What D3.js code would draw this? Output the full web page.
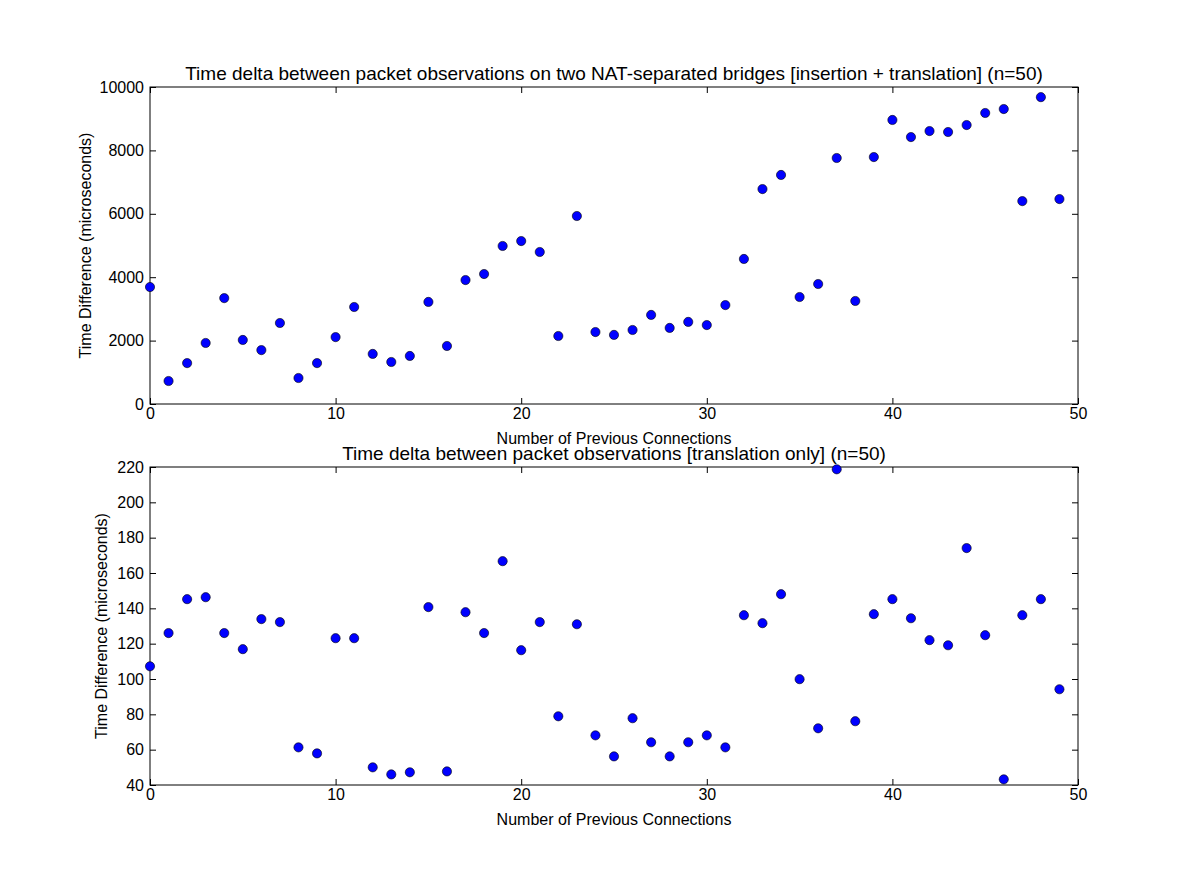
<!DOCTYPE html>
<html><head><meta charset="utf-8">
<script src="https://cdn.jsdelivr.net/npm/d3@7"></script>
<style>body{margin:0;background:#fff}text{font-family:"Liberation Sans",Arial,sans-serif}</style>
</head><body><div id="chart"></div>
<script>
const connections = d3.range(50);
const topValues = [3690,725,1290,1925,3340,2020,1700,2555,820,1290,2110,3060,1580,1325,1515,3220,1830,3910,4100,4985,
  5140,4795,2145,5930,2270,2180,2335,2810,2400,2590,2490,3120,4575,6780,7225,3375,3785,7760,3250,7790,
  8960,8420,8610,8580,8800,9180,9305,6400,9680,6465];
const bottomValues = [107.2,126,145.2,146.3,126,116.9,133.9,132.2,61.3,57.9,123.1,123.1,50,46,47.2,140.7,47.7,137.8,126,166.7,
  116.3,132.2,78.9,131,68.1,56.2,77.8,64.2,56.2,64.2,68.1,61.3,136.1,131.6,148,99.9,72.1,218.7,76.1,136.7,
  145.2,134.4,122,119.1,174.1,124.8,43.2,136.1,145.2,94.2];
const xTicks = [0,10,20,30,40,50];
const topYTicks = [0,2000,4000,6000,8000,10000];
const bottomYTicks = [40,60,80,100,120,140,160,180,200,220];

const svg = d3.select('#chart').append('svg').attr('width',1197).attr('height',873);

function panel(top, bottom, values, yDomain, yTicks, title, yLabelX) {
  const left = 150, right = 1078;
  const x = d3.scaleLinear().domain([0,50]).range([left,right]);
  const y = d3.scaleLinear().domain(yDomain).range([bottom,top]);
  const g = svg.append('g');
  const axes = [
    [d3.axisBottom(x).tickValues(xTicks), `translate(0,${bottom})`, true, 4],
    [d3.axisTop(x).tickValues(xTicks), `translate(0,${top})`, false, 0],
    [d3.axisLeft(y).tickValues(yTicks), `translate(${left},0)`, true, 6],
    [d3.axisRight(y).tickValues(yTicks), `translate(${right},0)`, false, 0]
  ];
  axes.forEach(([ax, tr, labels, pad]) => {
    ax.tickSizeInner(-6).tickSizeOuter(0).tickPadding(pad).tickFormat(d3.format('d'));
    const a = g.append('g').attr('transform', tr).call(ax);
    a.select('.domain').remove();
    a.selectAll('line').attr('stroke','#000');
    a.selectAll('text').attr('fill','#000').style('font-size','16px');
    if (!labels) a.selectAll('text').remove();
  });
  g.append('rect').attr('x',left).attr('y',top).attr('width',right-left).attr('height',bottom-top)
    .attr('fill','none').attr('stroke','#000').attr('stroke-width',1);
  g.selectAll('circle').data(values).enter().append('circle')
    .attr('cx',(d,i)=>x(connections[i])).attr('cy',d=>y(d)).attr('r',4.6)
    .attr('fill','#0000ff').attr('stroke','#000').attr('stroke-width',0.6);
  g.append('text').attr('x',(left+right)/2).attr('y',top-7).attr('text-anchor','middle')
    .style('font-size','19px').text(title);
  g.append('text').attr('x',(left+right)/2).attr('y',bottom+40).attr('text-anchor','middle')
    .style('font-size','16px').text('Number of Previous Connections');
  g.append('text').attr('transform',`translate(${yLabelX},${(top+bottom)/2}) rotate(-90)`)
    .attr('text-anchor','middle').style('font-size','16px').text('Time Difference (microseconds)');
}

panel(87, 404, topValues, [0,10000], topYTicks,
  'Time delta between packet observations on two NAT-separated bridges [insertion + translation] (n=50)', 91);
panel(467, 785, bottomValues, [40,220], bottomYTicks,
  'Time delta between packet observations [translation only] (n=50)', 107);
</script></body></html>
